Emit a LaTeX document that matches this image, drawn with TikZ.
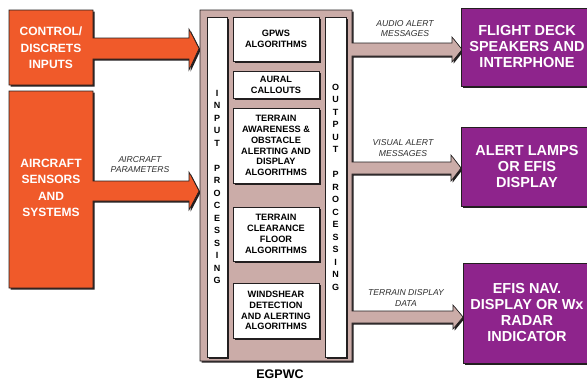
\documentclass[tikz,border=0pt]{standalone}
\usepackage{fontspec}
\setmainfont{Liberation Sans}
\usetikzlibrary{shadows}
\definecolor{org}{RGB}{240,90,42}
\definecolor{pur}{RGB}{142,36,140}
\definecolor{pnk}{RGB}{203,172,168}
\definecolor{shd}{RGB}{35,31,32}
\definecolor{lbl}{RGB}{45,45,45}
\tikzset{
  shad/.style={drop shadow={shadow xshift=1.6pt,shadow yshift=-1.6pt,fill=shd,opacity=1}},
  outl/.style={draw=shd,line width=0.6pt},
  wbox/.style={outl,fill=white,shad,minimum width=86pt,inner sep=0pt,align=center,
    font=\fontsize{9.2}{10.8}\selectfont\bfseries},
  strip/.style={outl,fill=white,shad,inner sep=0pt,align=center,
    font=\fontsize{9}{12.5}\selectfont\bfseries},
  pbox/.style={outl,fill=pur,shad,inner sep=0pt,align=center,text=white,
    font=\fontsize{14.5}{16}\selectfont\bfseries},
  otext/.style={align=center,text=white,font=\fontsize{12}{16.4}\selectfont\bfseries},
  lab/.style={align=center,text=lbl,font=\fontsize{8.6}{10.5}\selectfont\itshape},
}
\begin{document}
\begin{tikzpicture}[x=1pt,y=-1pt]
\useasboundingbox (0,0) rectangle (587,381);
% orange input shapes
\filldraw[outl,fill=org,shad] (9,10) -- (93,10) -- (93,38) -- (189,38) -- (189,29) -- (199,48.5)
  -- (189,70) -- (189,59) -- (93,59) -- (93,85) -- (9,85) -- cycle;
\filldraw[outl,fill=org,shad] (9,91) -- (93,91) -- (93,181) -- (189,181) -- (189,172) -- (199,191)
  -- (189,210) -- (189,201) -- (93,201) -- (93,288) -- (9,288) -- cycle;
\node[otext] (ctrl) at (51,48) {CONTROL/\\DISCRETS\\INPUTS};
\node[otext] (sens) at (51,188) {AIRCRAFT\\SENSORS\\AND\\SYSTEMS};
\node[lab] (apar) at (140,164.5) {AIRCRAFT\\PARAMETERS};
% main EGPWC box with output arrows
\filldraw[outl,fill=pnk,shad] (200,10) -- (352,10) -- (352,43) -- (452,43) -- (452,37) -- (462,49.5)
  -- (452,62) -- (452,56) -- (352,56) -- (352,162) -- (451,162) -- (451,155) -- (461,168)
  -- (451,181) -- (451,174) -- (352,174) -- (352,311) -- (453,311) -- (453,305) -- (463,317)
  -- (453,329) -- (453,323) -- (352,323) -- (352,361) -- (200,361) -- cycle;
\node[strip,minimum width=20pt,minimum height=340pt] (inp) at (217,187)
  {I\\N\\P\\U\\T\\[12.5pt]P\\R\\O\\C\\E\\S\\S\\I\\N\\G};
\node[strip,minimum width=21pt,minimum height=340pt] (outp) at (335.5,187)
  {O\\U\\T\\P\\U\\T\\[12.5pt]P\\R\\O\\C\\E\\S\\S\\I\\N\\G};
\node[wbox,minimum height=44pt] (gpws) at (276,39) {GPWS\\ALGORITHMS};
\node[wbox,minimum height=27pt] (aural) at (276,84.5) {AURAL\\CALLOUTS};
\node[wbox,minimum height=75pt] (taws) at (276,145.5) {TERRAIN\\AWARENESS \&\\OBSTACLE\\ALERTING AND\\DISPLAY\\ALGORITHMS};
\node[wbox,minimum height=54pt] (tcf) at (276,234) {TERRAIN\\CLEARANCE\\FLOOR\\ALGORITHMS};
\node[wbox,minimum height=55pt] (wind) at (276,310.5) {WINDSHEAR\\DETECTION\\AND ALERTING\\ALGORITHMS};
\node[font=\fontsize{12.5}{12.5}\selectfont\bfseries,inner sep=0pt] (egpwc) at (280,374.5) {EGPWC};
% labels on output arrows
\node[lab] (audio) at (405,28.5) {AUDIO ALERT\\MESSAGES};
\node[lab] (visual) at (403,148) {VISUAL ALERT\\MESSAGES};
\node[lab] (tdd) at (406,298) {TERRAIN DISPLAY\\DATA};
% purple output boxes
\node[pbox,minimum width=132pt,minimum height=78pt] (fds) at (527,47) {FLIGHT DECK\\SPEAKERS AND\\INTERPHONE};
\node[pbox,minimum width=132pt,minimum height=79pt] (alp) at (527,166.5) {ALERT LAMPS\\OR EFIS\\DISPLAY};
\node[pbox,minimum width=128pt,minimum height=100pt] (efis) at (527,313) {EFIS NAV.\\DISPLAY OR Wx\\RADAR\\INDICATOR};
\end{tikzpicture}
\end{document}
